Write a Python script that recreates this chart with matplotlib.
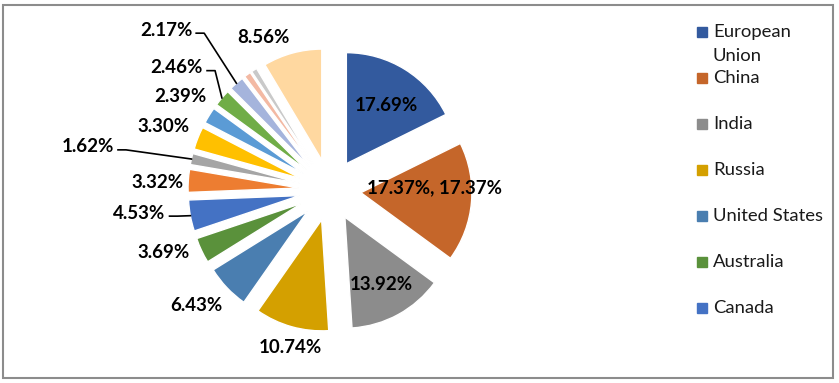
import math
import textwrap

import matplotlib
matplotlib.use('agg')
from matplotlib import pyplot as plt
from matplotlib.patches import Rectangle

# shares of each slice, clockwise from 12 o'clock (percent)
shares = [17.69, 17.37, 13.92, 10.74, 6.43, 3.69, 4.53, 3.32,
          1.62, 3.30, 2.39, 2.46, 2.17, 0.98, 0.83, 8.56]
labels = ['17.69%', '17.37%, 17.37%', '13.92%', '10.74%', '6.43%', '3.69%',
          '4.53%', '3.32%', '1.62%', '3.30%', '2.39%', '2.46%', '2.17%',
          '', '', '8.56%']
colors = ['#335A9E', '#C5662A', '#8C8C8C', '#D4A000', '#4A7EB0', '#5A913B',
          '#4472C4', '#ED7D31', '#A5A5A5', '#FFC000', '#5B9BD5', '#70AD47',
          '#A5B4DC', '#F3B9A3', '#C9C9C9', '#FFD8A0']
# only the first entries fit in the legend
legend_names = ['European Union', 'China', 'India', 'Russia',
                'United States', 'Australia', 'Canada']

W, H = 839, 383
CX, CY = 330, H - 190     # pie centre, pixel units with y up
R = 111
EXPLODE = 31

# label placement: distance from centre and angle tweak (deg, clockwise)
label_r = [102, 105, 108, 162, 176, 178, 192, 173, 246, 178, 176, 196, 229,
           0, 0, 166]
label_dang = [2.0, -6.1, 0.2, -1.4, 2.6, 4.5, 3.5, -1.1, -2.5, -0.7, 0.3,
              -1.8, -4.5, 0, 0, -8.1]
leader = {6, 8, 11, 12}

fig = plt.figure(figsize=(W / 100, H / 100), dpi=100)
ax = fig.add_axes([0, 0, 1, 1])
ax.set_xlim(0, W)
ax.set_ylim(0, H)
ax.set_aspect('equal')
ax.axis('off')

ax.pie(shares, colors=colors, startangle=90, counterclock=False,
       radius=R, center=(CX, CY), explode=[EXPLODE] * len(shares),
       wedgeprops=dict(edgecolor='white', linewidth=1))
ax.set_xlim(0, W)
ax.set_ylim(0, H)

total = sum(shares)
cum = 0.0
texts = []
for i, s in enumerate(shares):
    mid = (cum + s / 2) / total * 360
    cum += s
    if not labels[i]:
        continue
    a = math.radians(mid + label_dang[i])
    x = CX + label_r[i] * math.sin(a)
    y = CY + label_r[i] * math.cos(a)
    t = ax.text(x, y, labels[i], ha='center', va='center',
                fontsize=13.5, fontweight='bold', family='Lato', color='black')
    if i in leader:
        texts.append((t, mid))

fig.canvas.draw()
inv = ax.transData.inverted()
for t, mid in texts:
    bb = t.get_window_extent().transformed(inv)
    x0 = bb.x1 + 4
    y0 = (bb.y0 + bb.y1) / 2 - 3
    a = math.radians(mid)
    ex = CX + (R + EXPLODE) * math.sin(a)
    ey = CY + (R + EXPLODE) * math.cos(a)
    ax.plot([x0, x0 + 8, ex], [y0, y0, ey], color='black', lw=1.2)

# legend
lx, ly, step = 697, H - 32, 46
for i, name in enumerate(legend_names):
    y = ly - step * i
    ax.add_patch(Rectangle((lx, y - 5), 10, 10, color=colors[i]))
    for j, line in enumerate(textwrap.wrap(name, 13)):
        ax.text(lx + 16, y - 24 * j, line, ha='left', va='center',
                fontsize=13.3, family='Lato', color='#1a1a1a')

# chart border
ax.add_patch(Rectangle((3, H - 378), 830, 373, fill=False,
                       edgecolor='#8C8C8C', lw=1.5))

fig.savefig('out.png', dpi=100)
plt.close()
